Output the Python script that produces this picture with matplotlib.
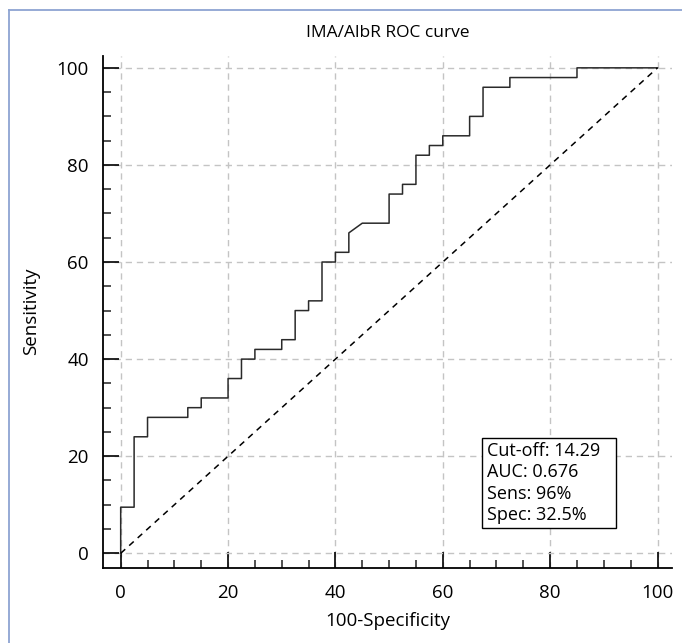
import matplotlib
matplotlib.use("Agg")
import matplotlib.pyplot as plt
from matplotlib.lines import Line2D
from matplotlib.patches import Rectangle
from matplotlib.ticker import MultipleLocator

# ROC curve vertices (100-Specificity, Sensitivity)
fpr = [0, 0, 2.5, 2.5, 5, 5, 12.5, 12.5, 15, 15, 20, 20, 22.5, 22.5, 25, 25,
       30, 30, 32.5, 32.5, 35, 35, 37.5, 37.5, 40, 40, 42.5, 42.5, 45, 50,
       50, 52.5, 52.5, 55, 55, 57.5, 57.5, 60, 60, 65, 65, 67.5, 67.5, 72.5,
       72.5, 85, 85, 100]
tpr = [0, 9.5, 9.5, 24, 24, 28, 28, 30, 30, 32, 32, 36, 36, 40, 40, 42,
       42, 44, 44, 50, 50, 52, 52, 60, 60, 62, 62, 66, 68, 68,
       74, 74, 76, 76, 82, 82, 84, 84, 86, 86, 90, 90, 96, 96,
       98, 98, 100, 100]
diag = [0, 100]
ticks = [0, 20, 40, 60, 80, 100]
stats_lines = ["Cut-off: 14.29", "AUC: 0.676", "Sens: 96%", "Spec: 32.5%"]
title = "IMA/AlbR ROC curve"
xlabel = "100-Specificity"
ylabel = "Sensitivity"

W, H = 682, 643
plt.rcParams['font.family'] = ['Open Sans', 'DejaVu Sans']
fig = plt.figure(figsize=(W / 100, H / 100), dpi=100)

def fx(px):
    return px / W

def fy(py):
    return 1 - py / H

ax = fig.add_axes([fx(103.3), fy(568.3), fx(672) - fx(103.3), fy(55.7) - fy(568.3)])
ax.set_xlim(-3.24, 102.7)
ax.set_ylim(-3.09, 102.5)

ax.plot(fpr, tpr, color='#2a2a2a', lw=1.1, zorder=3)
ax.plot(diag, diag, color='black', lw=1.1, linestyle=(0, (4, 3.5)), zorder=3)

ax.set_xticks(ticks)
ax.set_yticks(ticks)
ax.xaxis.set_minor_locator(MultipleLocator(5))
ax.yaxis.set_minor_locator(MultipleLocator(5))
ax.tick_params(which='major', direction='in', length=11.5, width=1.2, color='black',
               labelsize=13.5, pad=11)
ax.tick_params(which='minor', direction='in', length=5.5, width=1.2, color='#333333')
ax.tick_params(axis='y', which='both', pad=10.5)
ax.grid(True, which='major', color='#c4c4c4', linestyle=(0, (4.5, 3.5)), lw=1.0)
for s in ['top', 'right']:
    ax.spines[s].set_visible(False)
for s in ['left', 'bottom']:
    ax.spines[s].set_linewidth(1.3)

fig.text(fx(388), fy(33), title, ha='center', va='center', fontsize=12.5)
fig.text(fx(388), fy(621), xlabel, ha='center', va='center', fontsize=13.5)
fig.text(fx(31), fy(311), ylabel, ha='center', va='center', fontsize=13.5, rotation=90)

# stats box
bx0, bx1, by0, by1 = fx(481.7), fx(615.7), fy(528.3), fy(437.5)
fig.add_artist(Rectangle((bx0, by0), bx1 - bx0, by1 - by0, transform=fig.transFigure,
                         facecolor='white', edgecolor='black', lw=1.0, zorder=5))
for i, t in enumerate(stats_lines):
    fig.text(fx(487), fy(451 + i * 21.3), t, ha='left', va='center', fontsize=13, zorder=6)

# outer frame
fc = '#8ea4d2'
fig.add_artist(Line2D([fx(8.5), fx(8.5)], [fy(9.5), 0], transform=fig.transFigure, color=fc, lw=1.3))
fig.add_artist(Line2D([fx(8.5), 1], [fy(9.5), fy(9.5)], transform=fig.transFigure, color=fc, lw=1.3))

fig.savefig("out.png", dpi=100)
